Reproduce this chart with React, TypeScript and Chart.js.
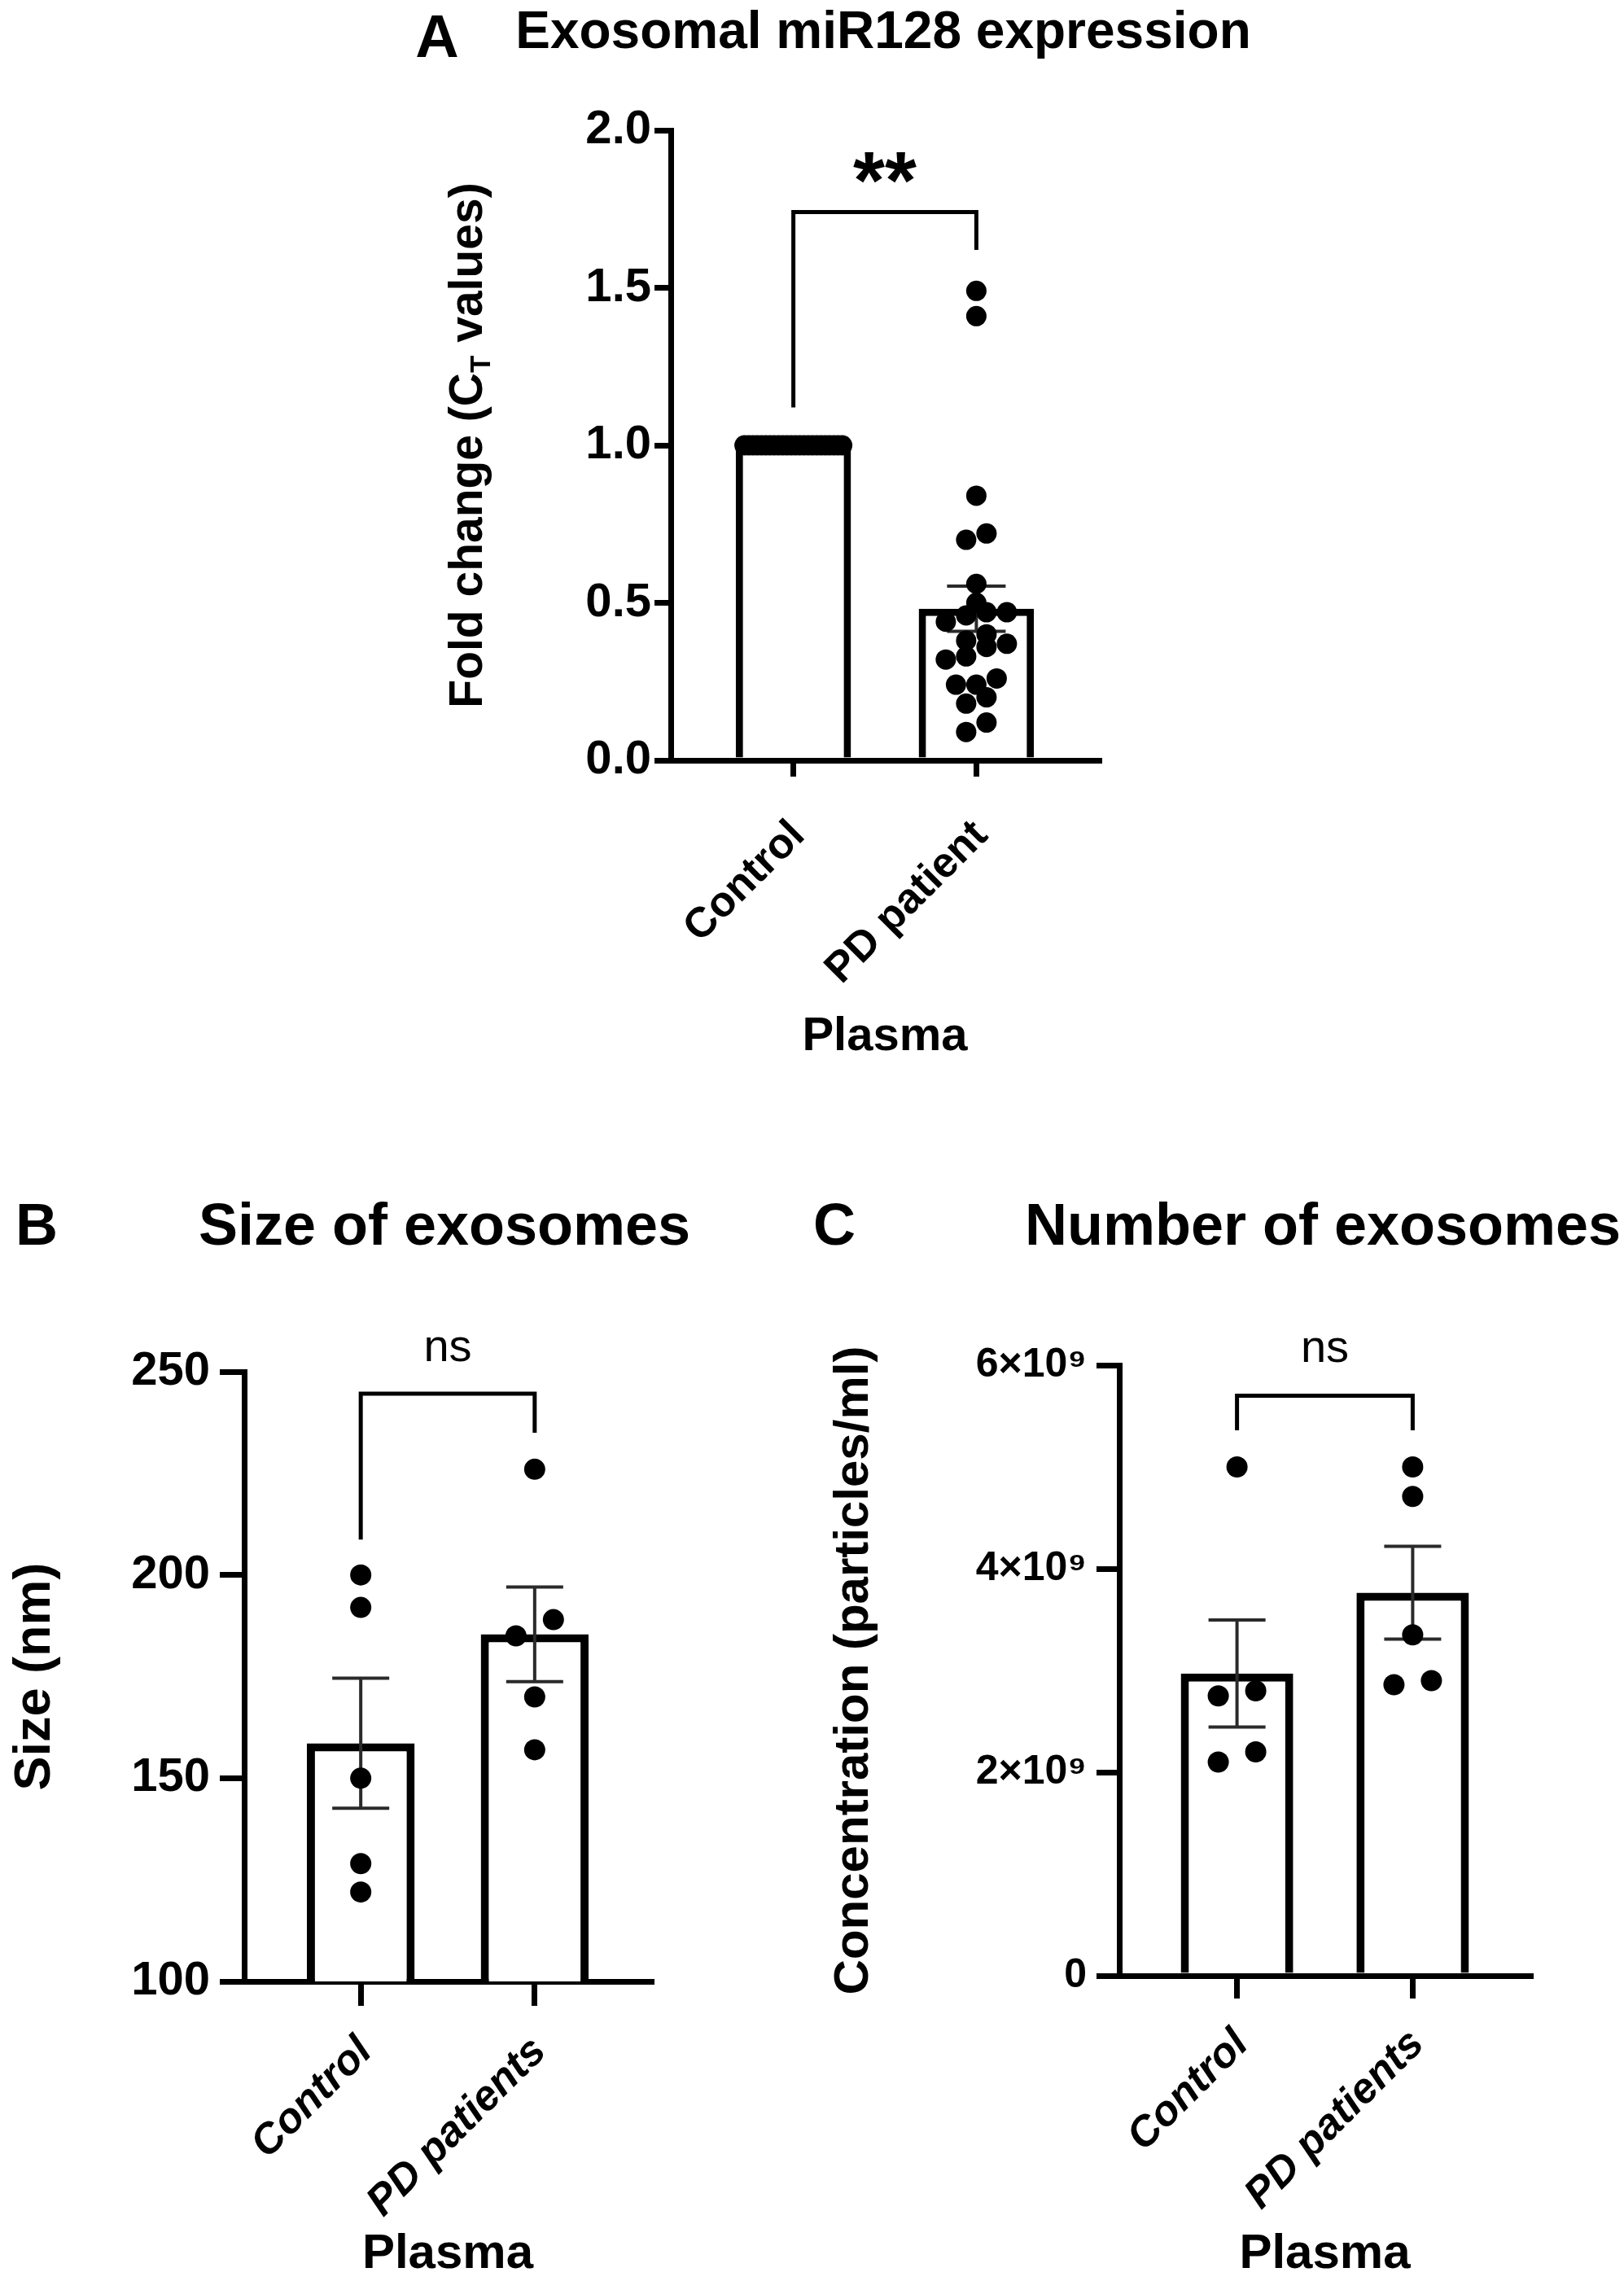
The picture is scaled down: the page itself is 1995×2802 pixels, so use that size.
import React, { useEffect, useRef } from 'react';
import { Chart, registerables } from 'chart.js';

Chart.register(...registerables);

const FONT = "'Liberation Sans', Arial, Helvetica, sans-serif";

// ---------------- Data ----------------
// Panel A: Exosomal miR128 expression, fold change (C_T values)
const miRCategories = ['Control', 'PD patient'];
const miRControl = [
  1.0, 1.0, 1.0, 1.0, 1.0, 1.0, 1.0, 1.0, 1.0, 1.0, 1.0, 1.0,
  1.0, 1.0, 1.0, 1.0, 1.0, 1.0, 1.0, 1.0, 1.0, 1.0, 1.0, 1.0,
];
const miRPatient = [
  1.49, 1.41, 0.84, 0.72, 0.7, 0.56, 0.5, 0.47, 0.47, 0.46, 0.44, 0.4,
  0.38, 0.37, 0.36, 0.33, 0.32, 0.26, 0.24, 0.24, 0.2, 0.18, 0.12, 0.09,
];
const miRTicks = [0, 0.5, 1.0, 1.5, 2.0];
const miRBracket = [1.74, 1.12, 1.62]; // top, left leg end, right leg end
const miRSignificance = '**';

// Panel B: Size of exosomes (nm)
const sizeCategories = ['Control', 'PD patients'];
const sizeControl = [200, 192, 150, 129, 122];
const sizePatients = [226, 189, 185, 170, 157];
const sizeTicks = [100, 150, 200, 250];
const sizeBracket = [244.6, 208.7, 235];
const sizeSignificance = 'ns';

// Panel C: Number of exosomes (particles/ml)
const numberCategories = ['Control', 'PD patients'];
const numberControl = [5.0e9, 2.8e9, 2.75e9, 2.2e9, 2.1e9];
const numberPatients = [5.0e9, 4.71e9, 3.35e9, 2.9e9, 2.86e9];
const numberTicks = [0, 2e9, 4e9, 6e9];
const numberBracket = [5.7e9, 5.36e9, 5.36e9];
const numberSignificance = 'ns';

// ---------------- Helpers ----------------
const X_MIN = 0.33;
const X_MAX = 2.67;

function mean(a: number[]) {
  return a.reduce((s, v) => s + v, 0) / a.length;
}
function sem(a: number[]) {
  const m = mean(a);
  const sd = Math.sqrt(a.reduce((s, v) => s + (v - m) * (v - m), 0) / (a.length - 1));
  return sd / Math.sqrt(a.length);
}

// simple Prism-like scatter layout: points that would overlap vertically share a centred row
function swarm(values: number[], center: number, pxPerY: number, pxPerX: number, diam: number, spacing: number, maxSpan: number) {
  const sorted = [...values].sort((a, b) => a - b);
  const rows: number[][] = [];
  for (const v of sorted) {
    const row = rows[rows.length - 1];
    if (row && Math.abs(v - row[0]) * pxPerY < diam * 0.9) row.push(v);
    else rows.push([v]);
  }
  const pts: { x: number; y: number }[] = [];
  for (const row of rows) {
    const n = row.length;
    const s = n > 1 ? Math.min(spacing, maxSpan / (n - 1)) : 0;
    row.forEach((v, i) => pts.push({ x: center + ((i - (n - 1) / 2) * s) / pxPerX, y: v }));
  }
  return pts;
}

function inkText(ctx: CanvasRenderingContext2D, text: string, x: number, y: number, font: string) {
  ctx.font = font;
  ctx.textAlign = 'center';
  ctx.textBaseline = 'alphabetic';
  const m = ctx.measureText(text);
  ctx.fillText(text, x, y + (m.actualBoundingBoxAscent - m.actualBoundingBoxDescent) / 2);
}
function capText(ctx: CanvasRenderingContext2D, text: string, x: number, y: number, font: string) {
  ctx.font = font;
  ctx.textAlign = 'center';
  ctx.textBaseline = 'alphabetic';
  const cap = ctx.measureText('H').actualBoundingBoxAscent;
  ctx.fillText(text, x, y + cap / 2);
}

type Panel = {
  letter: string; letterX: number; letterY: number; letterSize: number;
  title: string; titleX: number; titleY: number; titleSize: number;
  box: { left: number; top: number; width: number; height: number };
  plot: { left: number; right: number; top: number; bottom: number };
  cats: string[];
  groups: number[][];
  yMin: number; yMax: number; yTicks: number[];
  fmt: (v: number) => string;
  tickFont: number; tickLen: number; tickPad: number;
  catFont: number; catPad: number; catOffset: number; catStyle: string;
  yTitle: string | null; yTitleSize: number; yTitlePad: number;
  xTitle: string; xTitleSize: number; xTitlePad: number;
  axisW: number; barBorder: number; barPct: number;
  r: number; spacing: number; maxSpan: number;
  capW: number; errW: number;
  bracket: number[]; bracketW: number;
  sig: string; sigY: number; sigFont: string;
  customYTitle?: boolean; customYTitleX?: number;
};

function makePlugin(p: Panel) {
  return {
    id: 'annot',
    afterDatasetDraw(chart: any, args: any) {
      if (args.index !== 0) return;
      const ctx: CanvasRenderingContext2D = chart.ctx;
      const ys = chart.scales.y;
      const meta = chart.getDatasetMeta(0);
      ctx.save();
      ctx.strokeStyle = '#2a2a2a';
      ctx.lineWidth = p.errW;
      meta.data.forEach((bar: any, i: number) => {
        const g = p.groups[i];
        const m = mean(g);
        const s = sem(g);
        const yt = ys.getPixelForValue(m + s);
        const yb = ys.getPixelForValue(m - s);
        ctx.beginPath();
        ctx.moveTo(bar.x, yb);
        ctx.lineTo(bar.x, yt);
        ctx.moveTo(bar.x - p.capW / 2, yt);
        ctx.lineTo(bar.x + p.capW / 2, yt);
        ctx.moveTo(bar.x - p.capW / 2, yb);
        ctx.lineTo(bar.x + p.capW / 2, yb);
        ctx.stroke();
      });
      ctx.restore();
    },
    afterDraw(chart: any) {
      const ctx: CanvasRenderingContext2D = chart.ctx;
      const xs = chart.scales.x;
      const ys = chart.scales.y;
      ctx.save();
      ctx.fillStyle = '#000';
      capText(ctx, p.letter, p.letterX, p.letterY, `bold ${p.letterSize}px ${FONT}`);
      capText(ctx, p.title, p.titleX, p.titleY, `bold ${p.titleSize}px ${FONT}`);
      // significance bracket
      const x1 = xs.getPixelForValue(1);
      const x2 = xs.getPixelForValue(2);
      const yTop = ys.getPixelForValue(p.bracket[0]);
      ctx.strokeStyle = '#000';
      ctx.lineWidth = p.bracketW;
      ctx.lineJoin = 'miter';
      ctx.beginPath();
      ctx.moveTo(x1, ys.getPixelForValue(p.bracket[1]));
      ctx.lineTo(x1, yTop);
      ctx.lineTo(x2, yTop);
      ctx.lineTo(x2, ys.getPixelForValue(p.bracket[2]));
      ctx.stroke();
      inkText(ctx, p.sig, (x1 + x2) / 2, ys.getPixelForValue(p.sigY), p.sigFont);
      // y title with subscript (panel A)
      if (p.customYTitle) {
        const big = `bold ${p.yTitleSize}px ${FONT}`;
        const small = `bold ${Math.round(p.yTitleSize * 0.62)}px ${FONT}`;
        const a = 'Fold change (C';
        const t = 'T';
        const b = ' values)';
        ctx.font = big;
        const wa = ctx.measureText(a).width;
        const wb = ctx.measureText(b).width;
        const cap = ctx.measureText('H').actualBoundingBoxAscent;
        ctx.font = small;
        const wt = ctx.measureText(t).width;
        const total = wa + wt + wb;
        const cy = (chart.chartArea.top + chart.chartArea.bottom) / 2;
        ctx.translate(p.customYTitleX || 0, cy);
        ctx.rotate(-Math.PI / 2);
        ctx.textAlign = 'left';
        ctx.textBaseline = 'alphabetic';
        let x = -total / 2;
        ctx.font = big;
        ctx.fillText(a, x, cap / 2);
        x += wa;
        ctx.font = small;
        ctx.fillText(t, x, cap / 2 + p.yTitleSize * 0.18);
        x += wt;
        ctx.font = big;
        ctx.fillText(b, x, cap / 2);
      }
      ctx.restore();
    },
  };
}

function buildConfig(p: Panel): any {
  const pxX = (p.plot.right - p.plot.left) / (X_MAX - X_MIN);
  const pxY = (p.plot.bottom - p.plot.top) / (p.yMax - p.yMin);
  const barData = p.groups.map((g, i) => ({ x: i + 1, y: mean(g) }));
  const pts = p.groups.flatMap((g, i) => swarm(g, i + 1, pxY, pxX, 2 * p.r, p.spacing, p.maxSpan));
  const grid = {
    display: true,
    offset: false,
    drawOnChartArea: false,
    drawTicks: true,
    tickLength: p.tickLen,
    tickWidth: p.axisW,
    tickColor: '#000',
    color: '#000',
    lineWidth: p.axisW,
  };
  const border = { display: true, color: '#000', width: p.axisW };
  return {
    type: 'bar',
    data: {
      datasets: [
        {
          type: 'bar',
          data: barData,
          backgroundColor: '#ffffff',
          borderColor: '#000000',
          borderWidth: p.barBorder,
          barPercentage: p.barPct,
          categoryPercentage: 1,
          order: 2,
        },
        {
          type: 'scatter',
          data: pts,
          pointRadius: p.r,
          pointHoverRadius: p.r,
          pointBackgroundColor: '#000',
          pointBorderWidth: 0,
          order: 1,
        },
      ],
    },
    options: {
      responsive: false,
      animation: false,
      devicePixelRatio: 1,
      events: [],
      layout: { padding: { left: 0, top: p.plot.top, right: p.box.width - p.plot.right, bottom: 0 } },
      plugins: { legend: { display: false }, tooltip: { enabled: false }, title: { display: false } },
      scales: {
        x: {
          type: 'linear',
          min: X_MIN,
          max: X_MAX,
          offset: false,
          afterBuildTicks: (s: any) => {
            s.ticks = p.cats.map((_c, i) => ({ value: i + 1 }));
          },
          afterFit: (s: any) => {
            s.height = p.box.height - p.plot.bottom;
          },
          ticks: {
            callback: (_v: any, i: number) => p.cats[i],
            minRotation: 45,
            maxRotation: 45,
            autoSkip: false,
            color: '#000',
            padding: p.catPad,
            labelOffset: p.catOffset,
            font: { family: FONT, size: p.catFont, weight: 'bold', style: p.catStyle },
          },
          grid,
          border,
          title: {
            display: true,
            text: p.xTitle,
            color: '#000',
            font: { family: FONT, size: p.xTitleSize, weight: 'bold', lineHeight: 1 },
            padding: { top: 0, bottom: p.xTitlePad },
          },
        },
        y: {
          type: 'linear',
          min: p.yMin,
          max: p.yMax,
          afterBuildTicks: (s: any) => {
            s.ticks = p.yTicks.map((v) => ({ value: v }));
          },
          afterFit: (s: any) => {
            s.width = p.plot.left;
          },
          ticks: {
            callback: (v: any) => p.fmt(Number(v)),
            color: '#000',
            padding: p.tickPad,
            font: { family: FONT, size: p.tickFont, weight: 'bold' },
          },
          grid,
          border,
          title: p.yTitle
            ? {
                display: true,
                text: p.yTitle,
                color: '#000',
                font: { family: FONT, size: p.yTitleSize, weight: 'bold', lineHeight: 1 },
                padding: { top: p.yTitlePad, bottom: 0 },
              }
            : { display: false },
        },
      },
    },
    plugins: [makePlugin(p)],
  };
}

const panelA: Panel = {
  letter: 'A', letterX: 57, letterY: 44, letterSize: 74,
  title: 'Exosomal miR128 expression', titleX: 605, titleY: 36, titleSize: 64,
  box: { left: 480, top: 0, width: 1100, height: 1330 },
  plot: { left: 344, right: 870, top: 160, bottom: 934 },
  cats: miRCategories,
  groups: [miRControl, miRPatient],
  yMin: 0, yMax: 2, yTicks: miRTicks,
  fmt: (v) => v.toFixed(1),
  tickFont: 58, tickLen: 20, tickPad: 4,
  catFont: 52, catPad: 42, catOffset: 6, catStyle: 'normal',
  yTitle: null, yTitleSize: 57, yTitlePad: 0,
  xTitle: 'Plasma', xTitleSize: 58, xTitlePad: 27,
  axisW: 7, barBorder: 9, barPct: 0.63,
  r: 12.5, spacing: 25, maxSpan: 120,
  capW: 72, errW: 4,
  bracket: miRBracket, bracketW: 5,
  sig: miRSignificance, sigY: 1.88, sigFont: `bold 100px ${FONT}`,
  customYTitle: true, customYTitleX: 92,
};

const panelB: Panel = {
  letter: 'B', letterX: 45, letterY: 104, letterSize: 72,
  title: 'Size of exosomes', titleX: 546, titleY: 104, titleSize: 72,
  box: { left: 0, top: 1400, width: 990, height: 1402 },
  plot: { left: 300, right: 800, top: 285, bottom: 1034 },
  cats: sizeCategories,
  groups: [sizeControl, sizePatients],
  yMin: 100, yMax: 250, yTicks: sizeTicks,
  fmt: (v) => String(v),
  tickFont: 58, tickLen: 30, tickPad: 12,
  catFont: 52, catPad: 26, catOffset: 6, catStyle: 'italic',
  yTitle: 'Size (nm)', yTitleSize: 63, yTitlePad: 12,
  xTitle: 'Plasma', xTitleSize: 60, xTitlePad: 3,
  axisW: 7, barBorder: 10, barPct: 0.62,
  r: 13, spacing: 46, maxSpan: 120,
  capW: 70, errW: 4,
  bracket: sizeBracket, bracketW: 5,
  sig: sizeSignificance, sigY: 255.5, sigFont: `56px ${FONT}`,
};

const panelC: Panel = {
  letter: 'C', letterX: 35, letterY: 104, letterSize: 72,
  title: 'Number of exosomes', titleX: 635, titleY: 104, titleSize: 72,
  box: { left: 990, top: 1400, width: 1005, height: 1402 },
  plot: { left: 385, right: 890, top: 277, bottom: 1027 },
  cats: numberCategories,
  groups: [numberControl, numberPatients],
  yMin: 0, yMax: 6e9, yTicks: numberTicks,
  fmt: (v) => (v === 0 ? '0' : `${Math.round(v / 1e9)}×10⁹`),
  tickFont: 50, tickLen: 28, tickPad: 12,
  catFont: 52, catPad: 26, catOffset: 6, catStyle: 'italic',
  yTitle: 'Concentration (particles/ml)', yTitleSize: 60, yTitlePad: 29,
  xTitle: 'Plasma', xTitleSize: 60, xTitlePad: 3,
  axisW: 7, barBorder: 10, barPct: 0.64,
  r: 13, spacing: 46, maxSpan: 120,
  capW: 70, errW: 4,
  bracket: numberBracket, bracketW: 5,
  sig: numberSignificance, sigY: 6.15e9, sigFont: `56px ${FONT}`,
};

function PanelChart({ p }: { p: Panel }) {
  const ref = useRef<HTMLCanvasElement>(null);
  useEffect(() => {
    if (!ref.current) return;
    const chart = new Chart(ref.current, buildConfig(p));
    return () => chart.destroy();
  }, [p]);
  return (
    <canvas
      ref={ref}
      width={p.box.width}
      height={p.box.height}
      style={{ position: 'absolute', left: p.box.left, top: p.box.top, width: p.box.width, height: p.box.height }}
    />
  );
}

export default function App() {
  useEffect(() => {
    document.body.style.margin = '0';
    document.body.style.background = '#fff';
  }, []);
  return (
    <div style={{ position: 'relative', width: 1995, height: 2802, background: '#fff', overflow: 'hidden' }}>
      <PanelChart p={panelA} />
      <PanelChart p={panelB} />
      <PanelChart p={panelC} />
    </div>
  );
}
